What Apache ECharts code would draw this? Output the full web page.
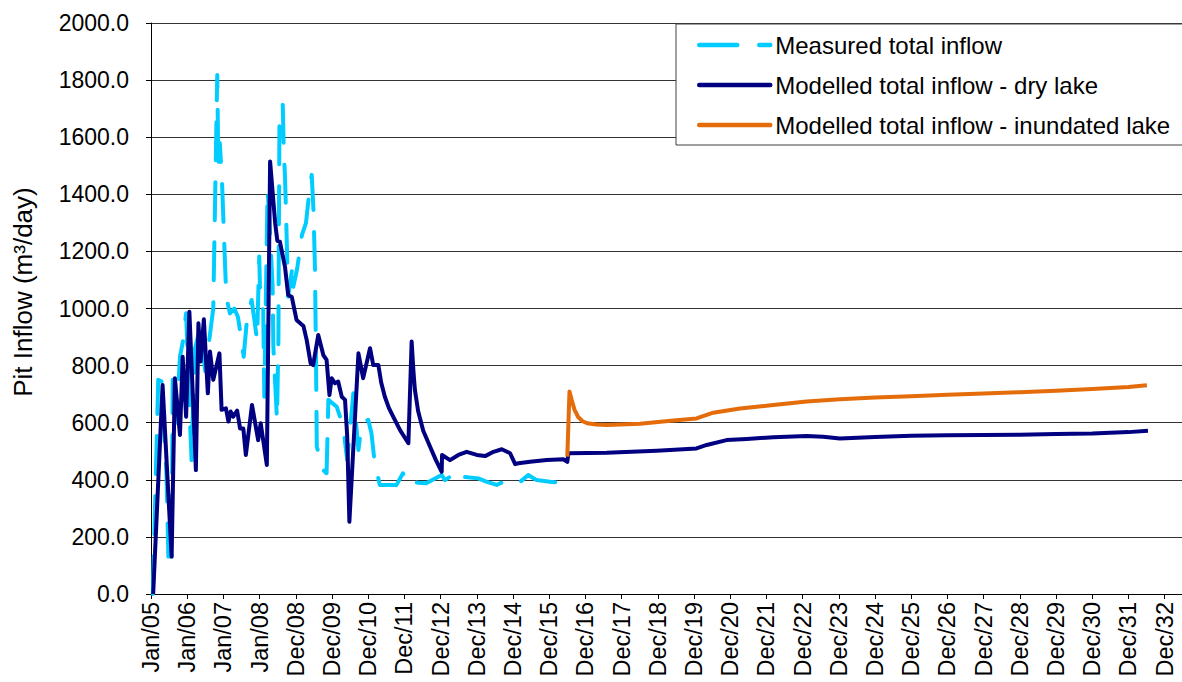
<!DOCTYPE html>
<html>
<head>
<meta charset="utf-8">
<script src="https://cdn.jsdelivr.net/npm/echarts@6/dist/echarts.min.js"></script>
<style>
html,body{margin:0;padding:0;background:#fff;}
#chart{width:1182px;height:682px;}
</style>
</head>
<body>
<div id="chart"></div>
<script>
// Tick labels along the date axis (one tick every 365 days from Jan 2005)
const xTickLabels = ['Jan/05','Jan/06','Jan/07','Jan/08','Dec/08','Dec/09','Dec/10','Dec/11','Dec/12','Dec/13','Dec/14','Dec/15','Dec/16','Dec/17','Dec/18','Dec/19','Dec/20','Dec/21','Dec/22','Dec/23','Dec/24','Dec/25','Dec/26','Dec/27','Dec/28','Dec/29','Dec/30','Dec/31','Dec/32'];
const yTickValues = [0,200,400,600,800,1000,1200,1400,1600,1800,2000];

// x = time in 365-day steps after Jan 2005 (same unit as the axis ticks)
const measuredX = [0.05,0.20,0.29,0.43,0.48,0.57,0.60,0.70,0.80,0.88,0.97,1.05,1.12,1.20,1.35,1.50,1.62,1.72,1.78,1.83,1.86,1.90,1.96,2.02,2.08,2.18,2.30,2.40,2.50,2.56,2.65,2.78,2.93,2.99,3.01,3.10,3.13,3.22,3.27,3.36,3.38,3.43,3.48,3.52,3.53,3.55,3.64,3.67,3.70,3.73,3.79,3.92,3.93,4.04,4.17,4.28,4.39,4.44,4.49,4.53,4.56,4.58,4.76,4.85,4.90,5.13,5.22,5.33,5.42,5.59,5.73,5.82,6.00,6.09,6.16,6.27,6.32,6.78,6.96,7.10,7.20,7.38,7.60,8.03,8.12,8.26,8.45,8.59,9.04,9.28,9.55,9.73,9.83,10.20,10.42,10.65,11.02,11.44];
const measuredY = [0,750,745,411,131,131,750,600,831,884,983,700,469,850,930,780,900,1000,1450,1818,1500,1580,1450,1240,1040,983,1000,971,890,831,960,1030,890,1182,1076,995,691,1415,1310,1076,866,738,610,896,1193,1695,1713,1544,1468,1334,1041,1158,1076,1141,1258,1299,1427,1468,1339,1135,800,516,434,423,680,656,621,563,469,703,504,598,610,563,481,411,382,382,423,382,393,390,388,417,399,411,434,411,405,393,382,393,405,393,417,399,393,388];

const dryX = [0.06,0.32,0.57,0.66,0.80,0.875,0.97,1.06,1.24,1.31,1.37,1.46,1.57,1.63,1.72,1.89,1.95,2.07,2.14,2.20,2.27,2.38,2.46,2.55,2.62,2.79,2.96,3.03,3.20,3.29,3.43,3.49,3.56,3.70,3.79,3.89,4.02,4.21,4.30,4.41,4.48,4.62,4.76,4.85,4.93,4.99,5.08,5.17,5.27,5.36,5.42,5.48,5.73,5.86,6.05,6.14,6.28,6.36,6.46,6.57,6.69,6.88,7.11,7.20,7.25,7.29,7.38,7.52,7.71,7.87,8.03,8.04,8.26,8.49,8.72,9.00,9.23,9.46,9.69,9.92,10.06,10.15,10.47,10.93,11.39,11.50,11.53,12.59,13.97,15.07,15.35,15.90,16.46,17.19,18.11,18.57,19.03,20.00,21.00,22.00,23.00,24.00,25.00,26.00,27.00,27.54];
const dryY = [0,732,131,756,557,831,621,989,434,948,814,962,703,849,750,843,645,650,604,639,621,642,580,580,487,662,539,598,452,1515,1299,1237,1234,1147,1047,1040,960,939,890,808,802,907,837,820,697,756,738,744,691,680,551,253,843,756,861,802,802,740,691,652,621,574,528,884,780,715,640,572,516,469,428,487,469,487,498,487,483,498,507,493,455,458,463,469,472,463,493,495,502,510,522,539,543,549,553,551,545,550,554,556,557,558,560,562,567,572];

const inundX = [11.50,11.56,11.62,11.70,11.80,11.92,12.05,12.30,12.59,13.51,14.43,15.07,15.53,16.27,17.19,18.11,19.03,20.00,21.00,22.00,23.00,24.00,25.00,26.00,27.00,27.51];
const inundY = [481,709,680,645,620,605,598,594,592,596,608,615,635,650,662,674,682,688,693,698,702,707,712,718,725,731];

const seriesNames = ['Measured total inflow','Modelled total inflow - dry lake','Modelled total inflow - inundated lake'];

const zip = (xs, ys) => xs.map((x, i) => [x, ys[i]]);
const FONT = '"Liberation Sans", Arial, sans-serif';
const tickPos = xTickLabels.map((_, i) => i);

const chart = echarts.init(document.getElementById('chart'), null, {renderer: 'svg'});
chart.setOption({
  animation: false,
  backgroundColor: '#ffffff',
  grid: {left: 151, right: 0, top: 23, bottom: 88, containLabel: false},
  legend: {
    orient: 'vertical',
    left: 676,
    top: 24,
    padding: [9, 13, 8, 21],
    itemGap: 16,
    itemWidth: 71,
    itemHeight: 14,
    backgroundColor: '#ffffff',
    borderColor: '#404040',
    borderWidth: 1,
    itemStyle: {opacity: 0},
    lineStyle: {width: 4.5, cap: 'round'},
    textStyle: {fontSize: 24, color: '#000', fontFamily: FONT},
    data: seriesNames
  },
  xAxis: {
    type: 'value',
    min: 0,
    max: 28.48,
    interval: 1,
    axisLine: {show: true, onZero: false, lineStyle: {color: '#000', width: 1}},
    axisTick: {show: true, length: 5, customValues: tickPos, lineStyle: {color: '#000'}},
    axisLabel: {
      rotate: 90, fontSize: 23.5, color: '#000', fontFamily: FONT, margin: 8,
      customValues: tickPos,
      formatter: v => xTickLabels[Math.round(v)]
    },
    splitLine: {show: false}
  },
  yAxis: {
    type: 'value',
    min: 0,
    max: 2000,
    interval: 200,
    axisLine: {show: true, lineStyle: {color: '#000', width: 1}},
    axisTick: {show: true, length: 5, lineStyle: {color: '#000'}},
    axisLabel: {fontSize: 23, color: '#000', fontFamily: FONT, margin: 22, formatter: v => v.toFixed(1)},
    splitLine: {show: true, lineStyle: {color: '#333', width: 1}}
  },
  graphic: [{
    type: 'text',
    x: 23,
    y: 292,
    rotation: Math.PI / 2,
    style: {text: 'Pit Inflow (m³/day)', font: '26px ' + FONT, fill: '#000', textAlign: 'center', textVerticalAlign: 'middle'}
  }],
  series: [
    {
      name: seriesNames[0], type: 'line', symbol: 'none', z: 2,
      data: zip(measuredX, measuredY),
      lineStyle: {color: '#00CCFF', width: 4, type: [38, 22], cap: 'round', join: 'round'},
      itemStyle: {color: '#00CCFF'}
    },
    {
      name: seriesNames[1], type: 'line', symbol: 'none', z: 3,
      data: zip(dryX, dryY),
      lineStyle: {color: '#000080', width: 4, join: 'round'},
      itemStyle: {color: '#000080'}
    },
    {
      name: seriesNames[2], type: 'line', symbol: 'none', z: 4,
      data: zip(inundX, inundY),
      lineStyle: {color: '#E46C0A', width: 4, join: 'round'},
      itemStyle: {color: '#E46C0A'}
    }
  ]
});
</script>
</body>
</html>
